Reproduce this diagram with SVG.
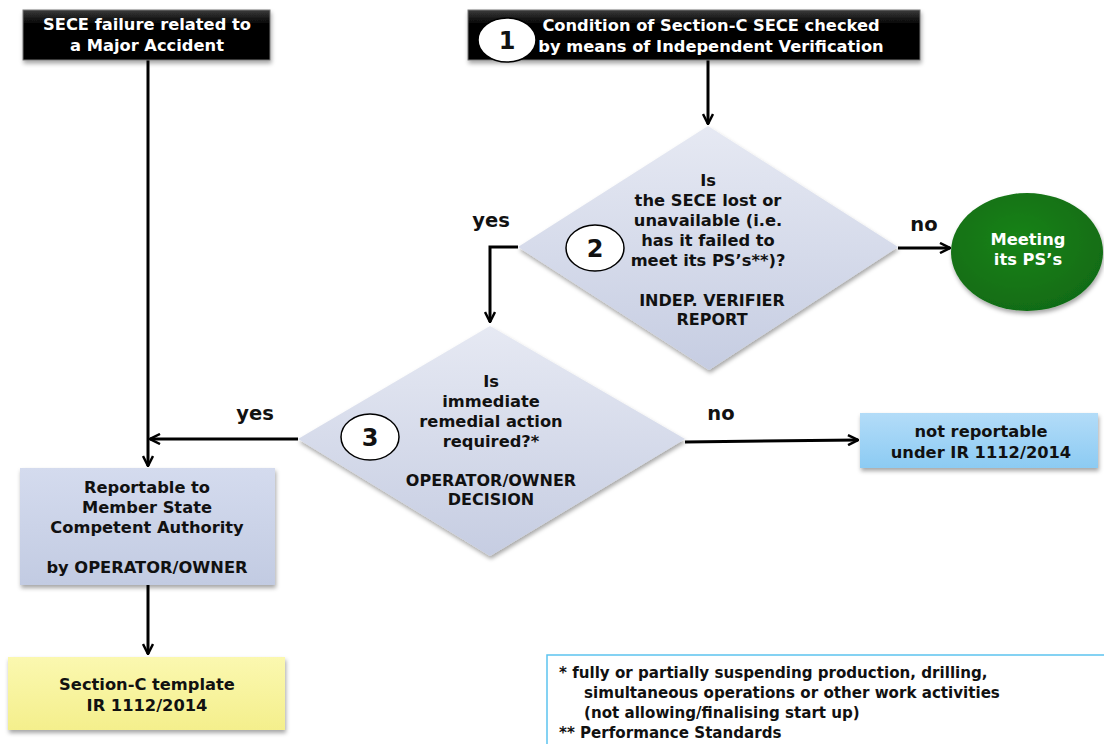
<svg xmlns="http://www.w3.org/2000/svg" width="1104" height="744" viewBox="0 0 1104 744">
<style>
text{font-family:"DejaVu Sans","Verdana",sans-serif;font-weight:bold;font-size:16.3px;text-anchor:middle;fill:#111}
.w{fill:#fff}
.lbl{font-size:19.5px}
.num{font-size:24px;font-weight:bold}
.sub{font-size:16px}
.c{fill:none;stroke:#000;stroke-width:3}
.fn{text-anchor:start;font-size:15.1px}
</style>
<defs>
<linearGradient id="blk" x1="0" y1="0" x2="0" y2="1"><stop offset="0" stop-color="#3a3a3a"/><stop offset="0.3" stop-color="#000"/><stop offset="1" stop-color="#000"/></linearGradient>
<linearGradient id="dia" x1="0" y1="0" x2="0" y2="1"><stop offset="0" stop-color="#e6e9f3"/><stop offset="1" stop-color="#c6cde2"/></linearGradient>
<linearGradient id="rep" x1="0" y1="0" x2="0" y2="1"><stop offset="0" stop-color="#d4dbee"/><stop offset="1" stop-color="#c2cbe2"/></linearGradient>
<linearGradient id="nr" x1="0" y1="0" x2="0" y2="1"><stop offset="0" stop-color="#b3dcf8"/><stop offset="1" stop-color="#8ccbf3"/></linearGradient>
<linearGradient id="yel" x1="0" y1="0" x2="0" y2="1"><stop offset="0" stop-color="#fbf8b0"/><stop offset="1" stop-color="#f4ef8c"/></linearGradient>
<radialGradient id="grn" cx="0.45" cy="0.4" r="0.6"><stop offset="0" stop-color="#1a831a"/><stop offset="1" stop-color="#116c12"/></radialGradient>
<filter id="sh" x="-10%" y="-10%" width="120%" height="125%"><feDropShadow dx="1" dy="3" stdDeviation="2" flood-color="#000" flood-opacity="0.35"/></filter>
<marker id="ar" viewBox="0 0 12 12" refX="11" refY="6" markerWidth="12" markerHeight="12" markerUnits="userSpaceOnUse" orient="auto"><path d="M1,1 L11,6 L1,11" fill="none" stroke="#000" stroke-width="2.5"/></marker>
</defs>

<g id="connectors">
<line class="c" x1="148" y1="60" x2="148" y2="466" marker-end="url(#ar)"/>
<line class="c" x1="708" y1="60" x2="708" y2="124" stroke-width="2" marker-end="url(#ar)"/>
<polyline class="c" points="518,247 490,247 490,322" marker-end="url(#ar)"/>
<line class="c" x1="898" y1="248" x2="950" y2="248" stroke-width="2" marker-end="url(#ar)"/>
<line class="c" x1="298" y1="439" x2="150" y2="439" marker-end="url(#ar)"/>
<line class="c" x1="685" y1="442" x2="858" y2="440" marker-end="url(#ar)"/>
<line class="c" x1="148" y1="585" x2="148" y2="654" marker-end="url(#ar)"/>
<text class="lbl" x="491" y="227">yes</text>
<text class="lbl" x="924" y="231">no</text>
<text class="lbl" x="255" y="420">yes</text>
<text class="lbl" x="721" y="420">no</text>
</g>

<g id="n-major">
<rect x="23" y="10" width="247" height="50" fill="url(#blk)" stroke="#777" stroke-width="1" filter="url(#sh)"/>
<text class="w" x="147" y="30">SECE failure related to</text>
<text class="w" x="147" y="51">a Major Accident</text>
</g>

<g id="n-check">
<rect x="468" y="10" width="452" height="50" fill="url(#blk)" stroke="#777" stroke-width="1" filter="url(#sh)"/>
<ellipse cx="507" cy="40" rx="29" ry="22" fill="#fff" stroke="#000" stroke-width="1.5"/>
<text class="num" x="507" y="49">1</text>
<text class="w" x="711" y="31">Condition of Section-C SECE checked</text>
<text class="w" x="711" y="52">by means of Independent Verification</text>
</g>

<g id="n-d2">
<polygon points="708,126 898,247 709,370 518,247" fill="url(#dia)" filter="url(#sh)"/>
<ellipse cx="595" cy="248" rx="29" ry="23" fill="#fff" stroke="#000" stroke-width="1.5"/>
<text class="num" x="595" y="257">2</text>
<text x="708" y="186">Is</text>
<text x="708" y="206">the SECE lost or</text>
<text x="708" y="226">unavailable (i.e.</text>
<text x="708" y="246">has it failed to</text>
<text x="708" y="266">meet its PS’s**)?</text>
<text class="sub" x="712" y="306">INDEP. VERIFIER</text>
<text class="sub" x="712" y="325">REPORT</text>
</g>

<g id="n-meet">
<ellipse cx="1027" cy="252" rx="76" ry="59" fill="url(#grn)" filter="url(#sh)"/>
<text class="w" x="1028" y="245">Meeting</text>
<text class="w" x="1028" y="265">its PS’s</text>
</g>

<g id="n-d3">
<polygon points="490,326 685,439 490,556 298,439" fill="url(#dia)" filter="url(#sh)"/>
<ellipse cx="370" cy="437" rx="29" ry="23" fill="#fff" stroke="#000" stroke-width="1.5"/>
<text class="num" x="370" y="446">3</text>
<text x="491" y="387">Is</text>
<text x="491" y="407">immediate</text>
<text x="491" y="427">remedial action</text>
<text x="491" y="447">required?*</text>
<text class="sub" x="491" y="486">OPERATOR/OWNER</text>
<text class="sub" x="491" y="505">DECISION</text>
</g>

<g id="n-notrep">
<rect x="860" y="413" width="238" height="55" fill="url(#nr)" filter="url(#sh)"/>
<text x="981" y="437">not reportable</text>
<text x="981" y="458">under IR 1112/2014</text>
</g>

<g id="n-rep">
<rect x="20" y="468" width="255" height="117" fill="url(#rep)" filter="url(#sh)"/>
<text x="147" y="493">Reportable to</text>
<text x="147" y="513">Member State</text>
<text x="147" y="533">Competent Authority</text>
<text x="147" y="573">by OPERATOR/OWNER</text>
</g>

<g id="n-template">
<rect x="8" y="657" width="277" height="73" fill="url(#yel)" filter="url(#sh)"/>
<text x="147" y="690">Section-C template</text>
<text x="147" y="711">IR 1112/2014</text>
</g>

<g id="n-note">
<rect x="547" y="655" width="570" height="100" fill="#fff" stroke="#5cc4f0" stroke-width="1.5"/>
<text class="fn" x="559" y="678">* fully or partially suspending production, drilling,</text>
<text class="fn" x="584" y="698">simultaneous operations or other work activities</text>
<text class="fn" x="584" y="718">(not allowing/finalising start up)</text>
<text class="fn" x="559" y="738">** Performance Standards</text>
</g>
</svg>
